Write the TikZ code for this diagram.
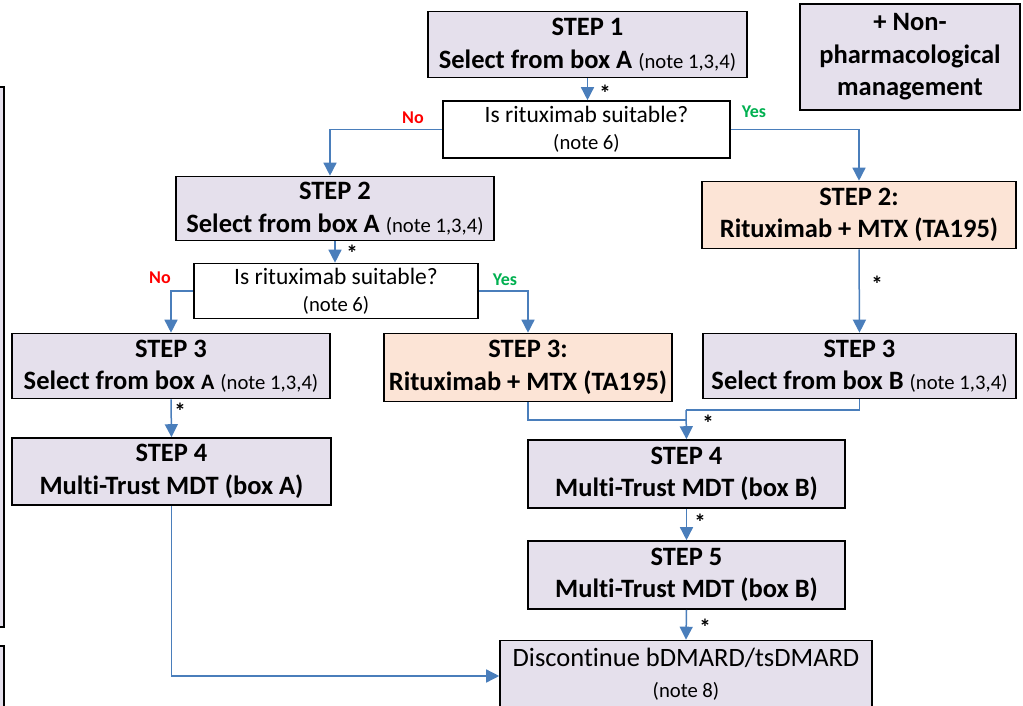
\documentclass[tikz,border=0pt]{standalone}
\usepackage{fontspec}
\setmainfont{Carlito}[Ligatures=NoCommon]
\usetikzlibrary{arrows.meta}

\definecolor{lavbox}{RGB}{229,224,236}
\definecolor{peachbox}{RGB}{252,228,214}
\definecolor{flowblue}{RGB}{74,126,187}
\definecolor{yesgreen}{RGB}{0,176,80}

\newcommand{\notetxt}[1]{{\fontsize{20.7}{24}\selectfont\mdseries #1}}

\tikzset{
  stepbox/.style={draw=black, line width=1.6pt, fill=lavbox, align=center, inner sep=2pt,
    font=\fontsize{26.5}{32.5}\selectfont\bfseries},
  ritubox/.style={stepbox, fill=peachbox},
  askbox/.style={draw=black, line width=1.6pt, fill=white, align=center, inner sep=2pt,
    font=\fontsize{23.5}{27}\selectfont},
  flow/.style={flowblue, line width=1.5pt, -{Triangle[length=13pt,width=13pt]}},
  flowline/.style={flowblue, line width=1.5pt},
  asterisk/.style={font=\fontsize{23}{23}\selectfont\bfseries, inner sep=0pt},
  nolbl/.style={red, font=\fontsize{18}{18}\selectfont\bfseries, inner sep=0pt},
  yeslbl/.style={yesgreen, font=\fontsize{18}{18}\selectfont\bfseries, inner sep=0pt}
}

\begin{document}
\begin{tikzpicture}[x=1pt, y=-1pt]
\clip (0,0) rectangle (1023,706);

% boxes cut off at the left margin
\filldraw[fill=lavbox, draw=black, line width=1.6pt] (-10,87) rectangle (4,627);
\filldraw[fill=lavbox, draw=black, line width=1.6pt] (-10,646) rectangle (4,730);

% first step and side note
\node[stepbox, minimum width=319pt, minimum height=66pt] (s1) at (587.5,44.5)
  {STEP 1\\Select from box A \notetxt{(note 1,3,4)}};
\node[stepbox, minimum width=220pt, minimum height=106pt] (np) at (910,57)
  {+ Non-\\pharmacological\\management};
\node[askbox, minimum width=287pt, minimum height=57pt] (q1) at (586.5,129.5)
  {Is rituximab suitable?\\\notetxt{(note 6)}};

% second step
\node[stepbox, minimum width=318pt, minimum height=64pt] (s2) at (335,208.5)
  {STEP 2\\Select from box A \notetxt{(note 1,3,4)}};
\node[ritubox, minimum width=314pt, minimum height=67pt] (s2b) at (859,215)
  {STEP 2:\\Rituximab + MTX (TA195)};
\node[askbox, minimum width=284pt, minimum height=55pt] (q2) at (336,291)
  {Is rituximab suitable?\\\notetxt{(note 6)}};

% third step
\node[stepbox, minimum width=318pt, minimum height=65pt] (s3a) at (171,366)
  {STEP 3\\Select from box {\fontsize{22}{24}\selectfont A} \notetxt{(note 1,3,4)}};
\node[ritubox, minimum width=288pt, minimum height=68pt] (s3b) at (528,367.5)
  {STEP 3:\\Rituximab + MTX (TA195)};
\node[stepbox, minimum width=313pt, minimum height=65pt] (s3c) at (859.5,366)
  {STEP 3\\Select from box B \notetxt{(note 1,3,4)}};

% fourth and fifth step
\node[stepbox, minimum width=319pt, minimum height=67pt] (s4a) at (171.5,471.5)
  {STEP 4\\Multi-Trust MDT (box A)};
\node[stepbox, minimum width=317pt, minimum height=68pt] (s4b) at (686.5,474)
  {STEP 4\\Multi-Trust MDT (box B)};
\node[stepbox, minimum width=317pt, minimum height=68pt] (s5) at (686.5,575)
  {STEP 5\\Multi-Trust MDT (box B)};
\node[askbox, fill=lavbox, minimum width=372pt, minimum height=68pt,
  font=\fontsize{26.5}{31}\selectfont] (disc) at (686,674.5)
  {Discontinue bDMARD/tsDMARD\\\notetxt{(note 8)}};

% junctions
\coordinate (j1) at (686,410);
\coordinate (j2) at (686,420);

% connectors
\draw[flow] (s1.south) -- (s1.south |- q1.north);
\draw[flow] (q1.west) -| ([xshift=-5pt]s2.north);
\draw[flow] (q1.east) -| (s2b.north);
\draw[flow] (s2.south) -- (s2.south |- q2.north);
\draw[flow] (q2.west) -| (s3a.north);
\draw[flow] (q2.east) -| (s3b.north);
\draw[flow] (s2b.south) -- (s3c.north);
\draw[flow] (s3a.south) -- (s4a.north);
\draw[flowline] (s3b.south) |- (j2);
\draw[flowline] (s3c.south) |- (j1);
\draw[flow] (j1) -- (s4b.north);
\draw[flow] (s4b.south) -- (s5.north);
\draw[flow] (s5.south) -- (disc.north);
\draw[flow] (s4a.south) |- ([yshift=-1.5pt]disc.west);

% labels
\node[nolbl] (no1) at (413,118) {No};
\node[yeslbl] (yes1) at (754,112) {Yes};
\node[nolbl] (no2) at (160,278) {No};
\node[yeslbl] (yes2) at (505,280) {Yes};
\node[asterisk] (a1) at (605,93) {*};
\node[asterisk] (a2) at (352,253) {*};
\node[asterisk] (a3) at (180,411) {*};
\node[asterisk] (a4) at (877,284) {*};
\node[asterisk] (a5) at (708,423) {*};
\node[asterisk] (a6) at (700,522) {*};
\node[asterisk] (a7) at (705,627) {*};
\end{tikzpicture}
\end{document}
